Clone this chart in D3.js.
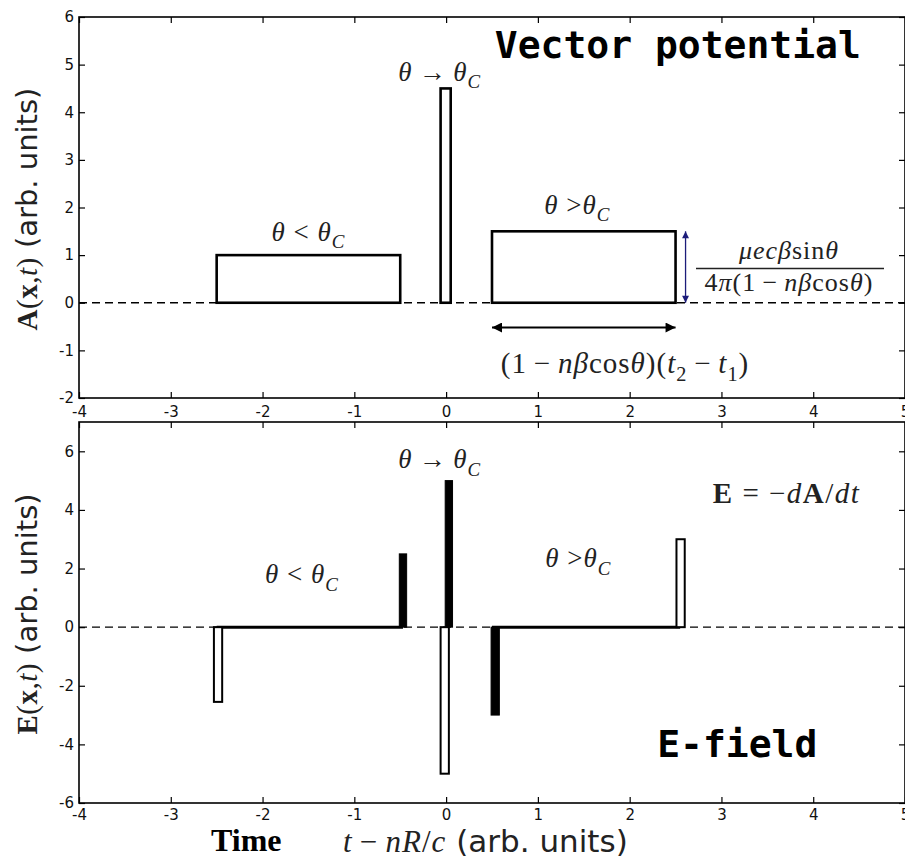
<!DOCTYPE html>
<html>
<head>
  <meta charset="utf-8">
  <title>Vector potential and E-field</title>
  <style>
    body { margin: 0; background: #fff; }
    .tick text { font-family: "DejaVu Sans", sans-serif; font-size: 15px; fill: #111; }
    .tick line { stroke: #000; stroke-width: 1.2px; }
    .frame { fill: none; stroke: #000; stroke-width: 1.6px; }
  </style>
  <script src="https://d3js.org/d3.v7.min.js"></script>
</head>
<body>
  <svg id="chart" width="905" height="858"></svg>

  <script>
    // tick values
    const timeTicks = [-4, -3, -2, -1, 0, 1, 2, 3, 4, 5];
    const aTicks = [-2, -1, 0, 1, 2, 3, 4, 5, 6];
    const eTicks = [-6, -4, -2, 0, 2, 4, 6];

    // vector potential pulses (start, end, height)
    const aStart = [-2.5, -0.06, 0.5];
    const aEnd = [-0.5, 0.05, 2.5];
    const aHeight = [1, 4.5, 1.5];

    // E-field spikes (start, end, value, filled?)
    const eStart = [-2.53, -0.51, -0.06, -0.01, 0.49, 2.51];
    const eEnd = [-2.44, -0.43, 0.03, 0.07, 0.58, 2.6];
    const eValue = [-2.55, 2.5, -5, 5, -3, 3];
    const eFilled = [false, true, false, true, true, false];

    // flat parts of the E-field between the spikes
    const plateauStart = [-2.5, 0.5];
    const plateauEnd = [-0.47, 2.55];

    const svg = d3.select('#chart');

    const x = d3.scaleLinear().domain([-4, 5]).range([79, 905]);
    const yA = d3.scaleLinear().domain([-2, 6]).range([398, 17]);
    const yE = d3.scaleLinear().domain([-6, 7]).range([803, 422]);

    const defs = svg.append('defs');
    function marker(id, color, w, h) {
      const m = defs.append('marker')
        .attr('id', id)
        .attr('viewBox', '0 0 10 10')
        .attr('refX', 10).attr('refY', 5)
        .attr('markerUnits', 'userSpaceOnUse')
        .attr('markerWidth', w).attr('markerHeight', h)
        .attr('orient', 'auto-start-reverse');
      m.append('path').attr('d', 'M0,0L10,5L0,10Z').attr('fill', color);
    }
    marker('arrBlack', '#000', 13, 10);
    marker('arrBlue', '#1c1c7a', 8, 7);

    // draws a bit of LaTeX-like text from [text, style] parts
    function mathText(x0, y0, parts, size, anchor, spacing) {
      const t = svg.append('text')
        .attr('x', x0).attr('y', y0)
        .attr('font-family', '"Liberation Serif", "DejaVu Serif", serif')
        .attr('font-size', size)
        .attr('letter-spacing', spacing || 0)
        .attr('text-anchor', anchor || 'middle')
        .attr('fill', '#222');
      let shift = 0;
      parts.forEach(p => {
        const s = t.append('tspan').text(p[0]);
        const st = p[1] || '';
        if (st.includes('i')) s.attr('font-style', 'italic');
        if (st.includes('b')) s.attr('font-weight', 'bold');
        if (st.includes('f')) s.attr('font-family', '"DejaVu Sans", sans-serif').attr('letter-spacing', 0);
        const want = st.includes('s') ? size * 0.28 : 0;
        if (want !== shift) { s.attr('dy', want - shift); shift = want; }
        if (st.includes('s')) s.attr('font-size', size * 0.7);
      });
      return t;
    }

    const ltC = [['θ', 'i'], [' < '], ['θ', 'i'], ['C', 'is']];
    const toC = [['θ', 'i'], ['\u2009→\u2009'], ['θ', 'i'], ['C', 'is']];
    const gtC = [['θ', 'i'], [' >'], ['θ', 'i'], ['C', 'is']];

    function panel(y, top, bottom) {
      const g = svg.append('g');
      g.append('rect').attr('x', x.range()[0]).attr('y', top)
        .attr('width', x.range()[1] - x.range()[0]).attr('height', bottom - top)
        .attr('fill', '#fff');

      g.append('line')
        .attr('x1', x.range()[0]).attr('x2', x.range()[1])
        .attr('y1', y(0)).attr('y2', y(0))
        .attr('stroke', '#000').attr('stroke-width', 1.3)
        .attr('stroke-dasharray', '8,5');
      return g;
    }

    function axes(y, yTicks, top, bottom, pad) {
      const g = svg.append('g');
      g.append('g').attr('transform', `translate(0,${bottom})`)
        .call(d3.axisBottom(x).tickValues(timeTicks).tickSizeInner(-6).tickSizeOuter(0).tickPadding(pad)
          .tickFormat(d => String(d)));
      g.append('g').attr('transform', `translate(0,${top})`)
        .call(d3.axisTop(x).tickValues(timeTicks).tickSizeInner(-6).tickSizeOuter(0).tickFormat(''));
      g.append('g').attr('transform', `translate(${x.range()[0]},0)`)
        .call(d3.axisLeft(y).tickValues(yTicks).tickSizeInner(-6).tickSizeOuter(0).tickPadding(5)
          .tickFormat(d => String(d)));
      g.append('g').attr('transform', `translate(${x.range()[1]},0)`)
        .call(d3.axisRight(y).tickValues(yTicks).tickSizeInner(-6).tickSizeOuter(0).tickFormat(''));
      g.selectAll('.domain').remove();
      g.append('rect').attr('class', 'frame')
        .attr('x', x.range()[0]).attr('y', top)
        .attr('width', x.range()[1] - x.range()[0]).attr('height', bottom - top);
    }

    // ---- top panel: vector potential ----
    const gA = panel(yA, 17, 398);
    gA.selectAll('rect.pulse')
      .data(aHeight)
      .join('rect')
      .attr('class', 'pulse')
      .attr('x', (d, i) => x(aStart[i]))
      .attr('width', (d, i) => x(aEnd[i]) - x(aStart[i]))
      .attr('y', d => yA(d))
      .attr('height', d => yA(0) - yA(d))
      .attr('fill', '#fff').attr('stroke', '#000').attr('stroke-width', 2.6);

    // height arrow and width arrow for the last pulse
    gA.append('line')
      .attr('x1', x(aEnd[2]) + 10).attr('x2', x(aEnd[2]) + 10)
      .attr('y1', yA(0)).attr('y2', yA(aHeight[2]))
      .attr('stroke', '#1c1c7a').attr('stroke-width', 1.3)
      .attr('marker-start', 'url(#arrBlue)').attr('marker-end', 'url(#arrBlue)');
    gA.append('line')
      .attr('x1', x(aStart[2])).attr('x2', x(aEnd[2]))
      .attr('y1', yA(-0.52)).attr('y2', yA(-0.52))
      .attr('stroke', '#000').attr('stroke-width', 2)
      .attr('marker-start', 'url(#arrBlack)').attr('marker-end', 'url(#arrBlack)');

    // ---- bottom panel: E-field ----
    const gE = panel(yE, 422, 803);
    gE.selectAll('line.plateau')
      .data(plateauStart)
      .join('line')
      .attr('class', 'plateau')
      .attr('x1', d => x(d)).attr('x2', (d, i) => x(plateauEnd[i]))
      .attr('y1', yE(0)).attr('y2', yE(0))
      .attr('stroke', '#000').attr('stroke-width', 3);
    gE.selectAll('rect.spike')
      .data(eValue)
      .join('rect')
      .attr('class', 'spike')
      .attr('x', (d, i) => x(eStart[i]))
      .attr('width', (d, i) => x(eEnd[i]) - x(eStart[i]))
      .attr('y', d => Math.min(yE(d), yE(0)))
      .attr('height', d => Math.abs(yE(d) - yE(0)))
      .attr('fill', (d, i) => eFilled[i] ? '#000' : '#fff')
      .attr('stroke', '#000').attr('stroke-width', (d, i) => eFilled[i] ? 1 : 2);

    axes(yA, aTicks, 17, 398, 8);
    axes(yE, eTicks, 422, 803, 6);

    // ---- annotations, top ----
    mathText(x(-1.5), yA(1.3), ltC, 27, 'middle', 1);
    mathText(x(-0.07), yA(4.66), toC, 27, 'middle', 1);
    mathText(x(1.43), yA(1.87), gtC, 27, 'middle', 1);

    svg.append('text')
      .attr('x', x(0.53)).attr('y', yA(5.13))
      .attr('font-family', '"DejaVu Sans Mono", monospace')
      .attr('font-weight', 'bold').attr('font-size', 38)
      .text('Vector potential');

    const fx = 789;
    mathText(fx, 259, [['μecβ', 'i'], ['sin'], ['θ', 'i']], 26, 'middle', 1);
    svg.append('line').attr('x1', 696).attr('x2', 884).attr('y1', 268.5).attr('y2', 268.5)
      .attr('stroke', '#222').attr('stroke-width', 1.4);
    mathText(fx, 291, [['4'], ['π', 'i'], ['(1\u2009−\u2009'], ['nβ', 'i'], ['cos'], ['θ', 'i'], [')']], 26, 'middle', 1);

    mathText(625, 373,
      [['(1\u2009−\u2009'], ['nβ', 'i'], ['cos'], ['θ', 'i'], [')('], ['t', 'i'], ['2', 's'], ['\u2009−\u2009'], ['t', 'i'], ['1', 's'], [')']],
      29, 'middle', 1);

    // ---- annotations, bottom ----
    mathText(x(-0.07), yE(5.43), toC, 27, 'middle', 1);
    mathText(x(-1.57), yE(1.5), ltC, 27, 'middle', 1);
    mathText(x(1.44), yE(2.05), gtC, 27, 'middle', 1);
    mathText(x(3.71), yE(4.23), [['E', 'b'], [' = −'], ['d', 'i'], ['A', 'b'], ['/'], ['dt', 'i']], 29, 'middle', 1.5);

    svg.append('text')
      .attr('x', x(2.3)).attr('y', yE(-4.44))
      .attr('font-family', '"DejaVu Sans Mono", monospace')
      .attr('font-weight', 'bold').attr('font-size', 38)
      .text('E-field');

    // ---- axis titles ----
    function yTitle(cx, cy, letter) {
      const t = mathText(0, 0, [[letter, 'b'], ['('], ['x', 'b'], [','], ['t', 'i'], [')'], [' (arb. units)', 'f']], 29, 'middle', 0.5);
      t.attr('transform', `translate(${cx},${cy}) rotate(-90)`);
    }
    yTitle(37, 209, 'A');
    yTitle(37, 614, 'E');

    mathText(343, 852, [['t', 'i'], ['\u2009−\u2009'], ['nR', 'i'], ['/'], ['c', 'i'], [' (arb. units)', 'f']], 31, 'start', 1);

    svg.append('text')
      .attr('x', 211).attr('y', 851)
      .attr('font-family', '"Liberation Serif", serif')
      .attr('font-weight', 'bold').attr('font-size', 32)
      .text('Time');
  </script>
</body>
</html>
